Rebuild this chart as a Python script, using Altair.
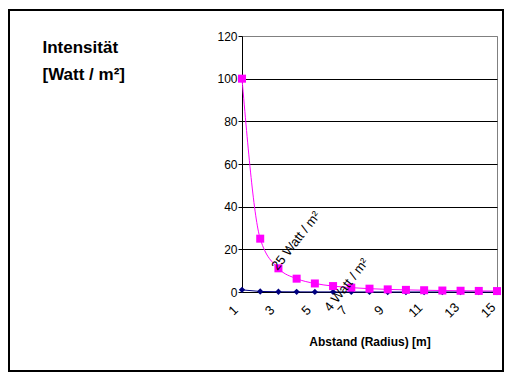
import altair as alt
import pandas as pd

radius = list(range(1, 16))
pink_vals = [100, 25, 11.1, 6.25, 4, 2.78, 2.04, 1.56, 1.23, 1.0, 0.83, 0.69, 0.59, 0.51, 0.44]
navy_vals = [1.0, 0.25, 0.11, 0.06, 0.04, 0.03, 0.02, 0.02, 0.01, 0.01, 0.01, 0.01, 0.01, 0.01, 0.0]
tick_x = [1, 3, 5, 7, 9, 11, 13, 15]
tick_y = [0, 20, 40, 60, 80, 100, 120]
ann_text = ["25 Watt / m²", "4 Watt / m²"]
ann_r = [2.95, 5.85]
ann_v = [9.8, -9.5]

df = pd.DataFrame({"r": radius, "pink": pink_vals, "navy": navy_vals})
ann = pd.DataFrame({"r": ann_r, "v": ann_v, "t": ann_text})

FONT = "Liberation Sans, Arial, sans-serif"

x_scale = alt.Scale(domain=[1, 15], nice=False, zero=False)
y_scale = alt.Scale(domain=[0, 120], nice=False)

x_axis = alt.Axis(
    values=tick_x, title="Abstand (Radius)  [m]", grid=False, ticks=False,
    labelAngle=315, labelAlign="center", labelBaseline="middle",
    labelPadding=18, labelOffset=-9,
    labelFont=FONT, labelFontSize=13, labelColor="black",
    domainColor="black", domainWidth=1,
    titleFont=FONT, titleFontSize=12, titleFontWeight="bold", titleColor="black",
    titleBaseline="alphabetic", titleY=53,
)
y_axis = alt.Axis(
    values=tick_y, title=["Intensität", "[Watt / m²]"], grid=True,
    gridColor={"condition": {"test": "datum.value === 120", "value": "#808080"}, "value": "black"},
    gridOpacity=1, gridWidth=1,
    tickSize=4, tickColor="black", labelPadding=1,
    labelFont=FONT, labelFontSize=12, labelColor="black",
    domainColor="black", domainWidth=1,
    titleAngle=0, titleAlign="left", titleBaseline="alphabetic",
    titleX=-200, titleY=16, titleLineHeight=27,
    titleFont=FONT, titleFontSize=17, titleFontWeight="bold", titleColor="black",
)

base = alt.Chart(df).encode(
    x=alt.X("r:Q", scale=x_scale, axis=x_axis),
)

navy_line = base.mark_line(color="#000080", strokeWidth=1).encode(
    y=alt.Y("navy:Q", scale=y_scale, axis=y_axis))
navy_pts = base.mark_point(shape="diamond", filled=True, size=40, color="#000080", opacity=1).encode(
    y=alt.Y("navy:Q", scale=y_scale, axis=y_axis))
pink_line = base.mark_line(color="#FF00FF", strokeWidth=1, interpolate="monotone").encode(
    y=alt.Y("pink:Q", scale=y_scale, axis=y_axis))
pink_pts = base.mark_square(size=64, color="#FF00FF", opacity=1).encode(
    y=alt.Y("pink:Q", scale=y_scale, axis=y_axis))

labels = alt.Chart(ann).mark_text(
    align="left", baseline="alphabetic", angle=308, font=FONT, fontSize=13, color="black"
).encode(
    x=alt.X("r:Q", scale=x_scale, axis=x_axis),
    y=alt.Y("v:Q", scale=y_scale, axis=y_axis),
    text="t:N",
)

border = alt.Chart(pd.DataFrame({"k": [0]})).mark_rect(
    fillOpacity=0, stroke="black", strokeWidth=2, clip=False
).encode(
    x=alt.value(-233), x2=alt.value(261), y=alt.value(-26), y2=alt.value(335)
)

chart = alt.layer(border, navy_line, navy_pts, pink_line, pink_pts, labels).properties(
    width=255, height=256,
    autosize=alt.AutoSizeParams(type="none"),
    padding={"left": 234, "top": 28, "right": 7, "bottom": 80},
    background="white",
).configure_view(stroke="#808080", strokeWidth=1)

chart.save("out.html", embed_options={"renderer": "svg", "actions": False})
